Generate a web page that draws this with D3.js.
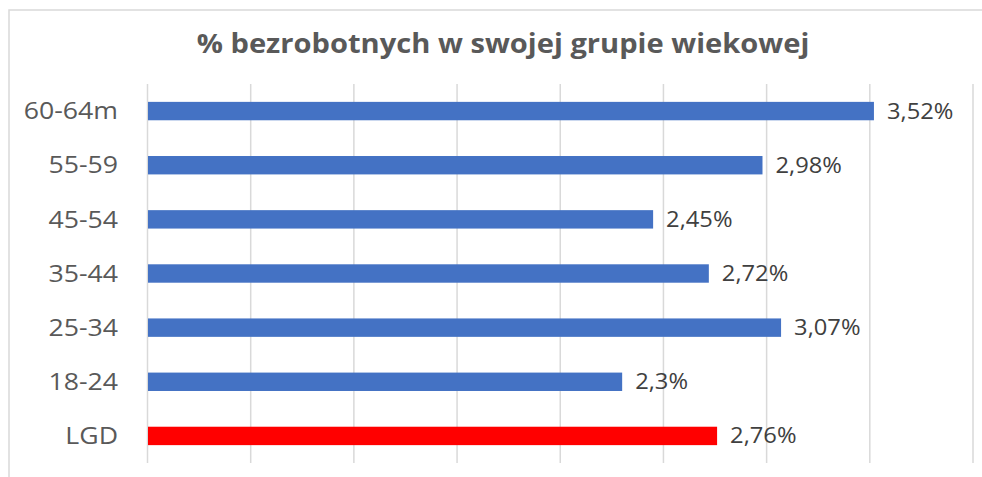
<!DOCTYPE html>
<html><head><meta charset="utf-8">
<script src="https://cdn.jsdelivr.net/npm/d3@7"></script>
<style>body{margin:0;background:#fff}svg{display:block}</style>
</head><body>
<script>
const categories = ["60-64m","55-59","45-54","35-44","25-34","18-24","LGD"];
const values = [3.52,2.98,2.45,2.72,3.07,2.3,2.76];
const valueLabels = ["3,52%","2,98%","2,45%","2,72%","3,07%","2,3%","2,76%"];
const barColors = ["#4472C4","#4472C4","#4472C4","#4472C4","#4472C4","#4472C4","#FF0000"];
const gridTicks = [0,0.5,1,1.5,2,2.5,3,3.5,4];
const title = "% bezrobotnych w swojej grupie wiekowej";

const W=982,H=477;
const svg=d3.select("body").append("svg").attr("width",W).attr("height",H);
svg.append("rect").attr("x",9).attr("y",10).attr("width",W).attr("height",H)
  .attr("fill","#fff").attr("stroke","#d9d9d9").attr("stroke-width",1.5);

const x=d3.scaleLinear().domain([0,4]).range([147.5,973]);
const y=d3.scaleBand().domain(categories).range([84,463]).paddingInner(0.66).paddingOuter(0.33);

svg.append("g").selectAll("line").data(gridTicks).join("line")
  .attr("x1",d=>x(d)).attr("x2",d=>x(d)).attr("y1",84).attr("y2",463)
  .attr("stroke","#d9d9d9").attr("stroke-width",1.5);

svg.append("g").selectAll("rect").data(categories).join("rect")
  .attr("x",x(0)+0.5).attr("y",d=>y(d)).attr("height",y.bandwidth())
  .attr("width",(d,i)=>x(values[i])-x(0)-0.5).attr("fill",(d,i)=>barColors[i]);

const font="'Open Sans', sans-serif";
svg.append("g").selectAll("text").data(categories).join("text")
  .attr("transform",d=>`translate(118,${y(d)+y.bandwidth()/2}) scale(1.16,1)`)
  .attr("text-anchor","end").attr("dy","0.36em")
  .attr("font-family",font).attr("font-size",23).attr("fill","#595959").text(d=>d);

svg.append("g").selectAll("text").data(categories).join("text")
  .attr("transform",(d,i)=>`translate(${x(values[i])+13},${y(d)+y.bandwidth()/2}) scale(1.13,1)`)
  .attr("dy","0.36em")
  .attr("font-family",font).attr("font-size",21).attr("fill","#404040").text((d,i)=>valueLabels[i]);

svg.append("text").attr("transform","translate(503,53) scale(1.12,1)")
  .attr("text-anchor","middle").attr("font-family",font).attr("font-weight","bold")
  .attr("font-size",26).attr("fill","#595959").text(title);
</script>
</body></html>
